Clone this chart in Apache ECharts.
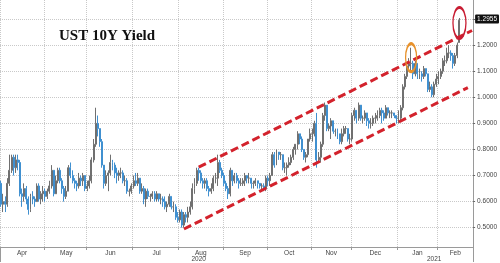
<!DOCTYPE html>
<html><head><meta charset="utf-8">
<script src="https://cdn.jsdelivr.net/npm/echarts@6/dist/echarts.min.js"></script>
<style>html,body{margin:0;padding:0;background:#fff}#c{width:500px;height:263px}</style>
</head><body><div id="c"></div>
<script>
// Trading days (categories)
const dates = [
'2020-04-01','2020-04-02','2020-04-03','2020-04-06','2020-04-07','2020-04-08','2020-04-09','2020-04-13','2020-04-14','2020-04-15','2020-04-16','2020-04-17','2020-04-20','2020-04-21','2020-04-22','2020-04-23','2020-04-24','2020-04-27','2020-04-28','2020-04-29','2020-04-30',
'2020-05-01','2020-05-04','2020-05-05','2020-05-06','2020-05-07','2020-05-08','2020-05-11','2020-05-12','2020-05-13','2020-05-14','2020-05-15','2020-05-18','2020-05-19','2020-05-20','2020-05-21','2020-05-22','2020-05-26','2020-05-27','2020-05-28','2020-05-29',
'2020-06-01','2020-06-02','2020-06-03','2020-06-04','2020-06-05','2020-06-08','2020-06-09','2020-06-10','2020-06-11','2020-06-12','2020-06-15','2020-06-16','2020-06-17','2020-06-18','2020-06-19','2020-06-22','2020-06-23','2020-06-24','2020-06-25','2020-06-26','2020-06-29','2020-06-30',
'2020-07-01','2020-07-02','2020-07-06','2020-07-07','2020-07-08','2020-07-09','2020-07-10','2020-07-13','2020-07-14','2020-07-15','2020-07-16','2020-07-17','2020-07-20','2020-07-21','2020-07-22','2020-07-23','2020-07-24','2020-07-27','2020-07-28','2020-07-29','2020-07-30','2020-07-31',
'2020-08-03','2020-08-04','2020-08-05','2020-08-06','2020-08-07','2020-08-10','2020-08-11','2020-08-12','2020-08-13','2020-08-14','2020-08-17','2020-08-18','2020-08-19','2020-08-20','2020-08-21','2020-08-24','2020-08-25','2020-08-26','2020-08-27','2020-08-28','2020-08-31',
'2020-09-01','2020-09-02','2020-09-03','2020-09-04','2020-09-08','2020-09-09','2020-09-10','2020-09-11','2020-09-14','2020-09-15','2020-09-16','2020-09-17','2020-09-18','2020-09-21','2020-09-22','2020-09-23','2020-09-24','2020-09-25','2020-09-28','2020-09-29','2020-09-30',
'2020-10-01','2020-10-02','2020-10-05','2020-10-06','2020-10-07','2020-10-08','2020-10-09','2020-10-13','2020-10-14','2020-10-15','2020-10-16','2020-10-19','2020-10-20','2020-10-21','2020-10-22','2020-10-23','2020-10-26','2020-10-27','2020-10-28','2020-10-29','2020-10-30',
'2020-11-02','2020-11-03','2020-11-04','2020-11-05','2020-11-06','2020-11-09','2020-11-10','2020-11-12','2020-11-13','2020-11-16','2020-11-17','2020-11-18','2020-11-19','2020-11-20','2020-11-23','2020-11-24','2020-11-25','2020-11-27','2020-11-30',
'2020-12-01','2020-12-02','2020-12-03','2020-12-04','2020-12-07','2020-12-08','2020-12-09','2020-12-10','2020-12-11','2020-12-14','2020-12-15','2020-12-16','2020-12-17','2020-12-18','2020-12-21','2020-12-22','2020-12-23','2020-12-24','2020-12-28','2020-12-29','2020-12-30','2020-12-31',
'2021-01-04','2021-01-05','2021-01-06','2021-01-07','2021-01-08','2021-01-11','2021-01-12','2021-01-13','2021-01-14','2021-01-15','2021-01-19','2021-01-20','2021-01-21','2021-01-22','2021-01-25','2021-01-26','2021-01-27','2021-01-28','2021-01-29',
'2021-02-01','2021-02-02','2021-02-03','2021-02-04','2021-02-05','2021-02-08','2021-02-09','2021-02-10','2021-02-11','2021-02-12','2021-02-16'
];
// Empty days on the right of the axis
const padDates = ['2021-02-17','2021-02-18','2021-02-19','2021-02-22','2021-02-23','2021-02-24'];

// [open, close, low, high]
const ohlcApr = [[0.67,0.59,0.58,0.68],[0.59,0.60,0.56,0.63],[0.60,0.59,0.56,0.62],[0.59,0.67,0.58,0.69],[0.67,0.72,0.66,0.78],[0.72,0.77,0.71,0.78],[0.77,0.73,0.70,0.78],[0.73,0.76,0.71,0.78],[0.76,0.75,0.72,0.78],[0.75,0.63,0.62,0.76],[0.63,0.62,0.58,0.65],[0.62,0.65,0.60,0.67],[0.65,0.61,0.59,0.66],[0.61,0.57,0.55,0.62],[0.57,0.62,0.56,0.63],[0.62,0.61,0.59,0.64],[0.61,0.60,0.58,0.62],[0.60,0.66,0.60,0.67],[0.66,0.61,0.60,0.67],[0.61,0.63,0.59,0.64],[0.63,0.64,0.60,0.66]];
const ohlcMay = [[0.64,0.62,0.60,0.65],[0.62,0.64,0.61,0.65],[0.64,0.66,0.63,0.68],[0.66,0.72,0.65,0.74],[0.72,0.63,0.62,0.72],[0.63,0.68,0.63,0.70],[0.68,0.72,0.67,0.73],[0.72,0.68,0.67,0.73],[0.68,0.65,0.63,0.69],[0.65,0.62,0.60,0.66],[0.62,0.64,0.61,0.66],[0.64,0.73,0.64,0.74],[0.73,0.70,0.69,0.75],[0.70,0.68,0.67,0.72],[0.68,0.67,0.65,0.69],[0.67,0.66,0.64,0.68],[0.66,0.69,0.65,0.71],[0.69,0.68,0.66,0.70],[0.68,0.70,0.66,0.71],[0.70,0.65,0.64,0.70]];
const ohlcJun = [[0.65,0.66,0.64,0.68],[0.66,0.68,0.65,0.70],[0.68,0.76,0.67,0.77],[0.76,0.82,0.75,0.84],[0.82,0.90,0.81,0.96],[0.90,0.88,0.85,0.93],[0.88,0.83,0.81,0.88],[0.83,0.74,0.73,0.84],[0.74,0.67,0.65,0.74],[0.67,0.70,0.66,0.72],[0.70,0.71,0.64,0.72],[0.71,0.75,0.70,0.78],[0.75,0.74,0.72,0.76],[0.74,0.71,0.69,0.75],[0.71,0.70,0.67,0.73],[0.70,0.71,0.68,0.72],[0.71,0.71,0.69,0.73],[0.71,0.68,0.67,0.72],[0.68,0.68,0.66,0.70],[0.68,0.64,0.63,0.69],[0.64,0.64,0.62,0.65],[0.64,0.66,0.63,0.67]];
const ohlcJul = [[0.66,0.68,0.65,0.70],[0.68,0.67,0.66,0.71],[0.67,0.69,0.66,0.71],[0.69,0.64,0.63,0.69],[0.64,0.65,0.63,0.67],[0.65,0.61,0.59,0.66],[0.61,0.64,0.58,0.65],[0.64,0.62,0.61,0.65],[0.62,0.62,0.60,0.63],[0.62,0.63,0.61,0.64],[0.63,0.61,0.60,0.64],[0.61,0.63,0.60,0.64],[0.63,0.61,0.60,0.63],[0.61,0.61,0.59,0.63],[0.61,0.60,0.58,0.62],[0.60,0.58,0.57,0.62],[0.58,0.59,0.56,0.60],[0.59,0.62,0.58,0.63],[0.62,0.58,0.57,0.62],[0.58,0.58,0.56,0.60],[0.58,0.54,0.53,0.59],[0.54,0.53,0.52,0.56]];
const ohlcAug = [[0.53,0.56,0.52,0.57],[0.56,0.51,0.50,0.57],[0.51,0.55,0.50,0.56],[0.55,0.54,0.52,0.56],[0.54,0.56,0.52,0.58],[0.56,0.58,0.55,0.60],[0.58,0.65,0.57,0.67],[0.65,0.67,0.63,0.69],[0.67,0.72,0.66,0.73],[0.72,0.71,0.68,0.73],[0.71,0.68,0.67,0.72],[0.68,0.67,0.65,0.69],[0.67,0.68,0.65,0.69],[0.68,0.65,0.64,0.69],[0.65,0.64,0.62,0.66],[0.64,0.65,0.63,0.67],[0.65,0.69,0.64,0.70],[0.69,0.69,0.67,0.71],[0.69,0.75,0.66,0.78],[0.75,0.72,0.71,0.76],[0.72,0.70,0.69,0.73]];
const ohlcSep = [[0.70,0.67,0.66,0.71],[0.67,0.65,0.64,0.68],[0.65,0.63,0.61,0.66],[0.63,0.72,0.62,0.73],[0.72,0.68,0.66,0.72],[0.68,0.70,0.67,0.71],[0.70,0.68,0.67,0.71],[0.68,0.67,0.65,0.69],[0.67,0.67,0.66,0.69],[0.67,0.68,0.66,0.69],[0.68,0.70,0.66,0.71],[0.70,0.69,0.67,0.70],[0.69,0.69,0.67,0.71],[0.69,0.67,0.65,0.69],[0.67,0.67,0.65,0.68],[0.67,0.68,0.66,0.69],[0.68,0.67,0.65,0.68],[0.67,0.66,0.65,0.67],[0.66,0.66,0.64,0.67],[0.66,0.65,0.64,0.67],[0.65,0.69,0.64,0.70]];
const ohlcOct = [[0.69,0.68,0.66,0.70],[0.68,0.70,0.66,0.71],[0.70,0.78,0.70,0.79],[0.78,0.74,0.73,0.79],[0.74,0.79,0.74,0.80],[0.79,0.78,0.76,0.79],[0.78,0.78,0.76,0.79],[0.78,0.73,0.72,0.78],[0.73,0.73,0.71,0.75],[0.73,0.74,0.70,0.75],[0.74,0.75,0.73,0.77],[0.75,0.77,0.74,0.78],[0.77,0.80,0.76,0.81],[0.80,0.82,0.78,0.82],[0.82,0.86,0.80,0.87],[0.86,0.84,0.82,0.86],[0.84,0.80,0.79,0.85],[0.80,0.77,0.76,0.80],[0.77,0.78,0.75,0.79],[0.78,0.84,0.77,0.84],[0.84,0.86,0.83,0.88]];
const ohlcNov = [[0.86,0.86,0.83,0.88],[0.86,0.90,0.85,0.91],[0.90,0.76,0.73,0.94],[0.76,0.77,0.75,0.79],[0.77,0.82,0.75,0.83],[0.82,0.93,0.81,0.94],[0.93,0.97,0.91,0.98],[0.97,0.88,0.87,0.97],[0.88,0.89,0.87,0.90],[0.89,0.91,0.84,0.92],[0.91,0.87,0.86,0.91],[0.87,0.87,0.85,0.88],[0.87,0.86,0.84,0.88],[0.86,0.83,0.82,0.86],[0.83,0.86,0.82,0.88],[0.86,0.88,0.85,0.89],[0.88,0.88,0.86,0.89],[0.88,0.84,0.83,0.88],[0.84,0.84,0.82,0.86]];
const ohlcDec = [[0.84,0.93,0.83,0.94],[0.93,0.95,0.91,0.96],[0.95,0.92,0.90,0.95],[0.92,0.97,0.91,0.98],[0.97,0.92,0.91,0.97],[0.92,0.92,0.90,0.93],[0.92,0.94,0.91,0.95],[0.94,0.91,0.89,0.94],[0.91,0.90,0.88,0.92],[0.90,0.90,0.88,0.92],[0.90,0.92,0.89,0.93],[0.92,0.92,0.90,0.94],[0.92,0.93,0.91,0.95],[0.93,0.95,0.92,0.96],[0.95,0.94,0.90,0.96],[0.94,0.92,0.91,0.95],[0.92,0.96,0.92,0.97],[0.96,0.94,0.93,0.96],[0.94,0.94,0.92,0.95],[0.94,0.94,0.92,0.95],[0.94,0.93,0.92,0.94],[0.93,0.92,0.90,0.93]];
const ohlcJan = [[0.92,0.92,0.90,0.95],[0.92,0.96,0.91,0.97],[0.96,1.04,0.95,1.05],[1.04,1.08,1.03,1.09],[1.08,1.12,1.07,1.13],[1.12,1.13,1.10,1.15],[1.13,1.13,1.10,1.19],[1.13,1.09,1.07,1.14],[1.09,1.13,1.08,1.14],[1.13,1.09,1.07,1.13],[1.09,1.09,1.07,1.11],[1.09,1.08,1.06,1.10],[1.08,1.11,1.07,1.12],[1.11,1.09,1.08,1.11],[1.09,1.03,1.02,1.09],[1.03,1.04,1.02,1.06],[1.04,1.01,1.00,1.05],[1.01,1.05,1.00,1.06],[1.05,1.07,1.04,1.09]];
const ohlcFeb = [[1.07,1.08,1.05,1.10],[1.08,1.10,1.07,1.11],[1.10,1.14,1.09,1.15],[1.14,1.14,1.12,1.16],[1.14,1.17,1.13,1.19],[1.17,1.17,1.15,1.20],[1.17,1.16,1.14,1.18],[1.16,1.13,1.11,1.17],[1.13,1.16,1.12,1.17],[1.16,1.20,1.15,1.21],[1.21,1.2955,1.21,1.304]];

const yTickValues = [0.5,0.6,0.7,0.8,0.9,1.0,1.1,1.2,1.3];
const yLabelValues = [0.5,0.6,0.7,0.8,0.9,1.0,1.1,1.2];
const lastPrice = 1.2955;
const channelUpper = [['2020-08-14', 0.732], ['2021-02-24', 1.256]];
const channelLower = [['2020-08-05', 0.495], ['2021-02-22', 1.037]];
const highlightOrange = ['2021-01-12', 1.152];
const highlightRed = ['2021-02-16', 1.285];
const monthNames = ['Jan','Feb','Mar','Apr','May','Jun','Jul','Aug','Sep','Oct','Nov','Dec'];

const ohlc = [].concat(ohlcApr, ohlcMay, ohlcJun, ohlcJul, ohlcAug, ohlcSep, ohlcOct, ohlcNov, ohlcDec, ohlcJan, ohlcFeb);
const cats = dates.concat(padDates);
const seriesData = ohlc.concat(padDates.map(() => '-'));

// month / year boundaries & label positions derived from categories
const monthStart = new Set(), monthMid = new Set(), yearStart = new Set(), yearMid = new Set();
(function () {
  const groups = (len) => {
    const g = [];
    cats.forEach((d, i) => {
      const k = d.slice(0, len);
      if (!g.length || g[g.length - 1].k !== k) g.push({k, s: i, e: i}); else g[g.length - 1].e = i;
    });
    return g;
  };
  groups(7).forEach(g => { monthStart.add(g.s); monthMid.add(Math.floor((g.s + g.e + 1) / 2)); });
  groups(4).forEach(g => { if (g.s > 0) yearStart.add(g.s); yearMid.add(Math.floor((g.s + g.e) / 2)); });
})();

const chart = echarts.init(document.getElementById('c'), null, {renderer: 'canvas'});
const gridCol = '#c9c9c9';
const labelFont = 'Liberation Sans';
chart.setOption({
  animation: false,
  backgroundColor: '#fff',
  title: {
    text: 'UST 10Y Yield', left: 54, top: 24,
    textStyle: {fontFamily: 'Liberation Serif', fontWeight: 'bold', fontSize: 15, color: '#111'}
  },
  grid: {left: -6, right: 23, top: 0, bottom: 15},
  xAxis: [{
    type: 'category', data: cats, boundaryGap: true, position: 'bottom',
    axisLine: {show: true, lineStyle: {color: '#9a9a9a', width: 1}},
    axisTick: {show: true, length: 3, interval: (i) => monthStart.has(i), lineStyle: {color: '#9a9a9a'}},
    axisLabel: {
      interval: (i) => monthMid.has(i), margin: 3, fontSize: 6.5, color: '#444', fontFamily: labelFont,
      formatter: (v) => monthNames[+v.slice(5, 7) - 1]
    },
    splitLine: {show: true, interval: (i) => monthStart.has(i), lineStyle: {color: gridCol, type: 'dotted', width: 1}}
  }, {
    type: 'category', data: cats, boundaryGap: true, position: 'bottom',
    axisLine: {show: false},
    axisTick: {show: true, length: 15, interval: (i) => yearStart.has(i), lineStyle: {color: '#9a9a9a'}},
    axisLabel: {
      interval: (i) => yearMid.has(i), margin: 9, fontSize: 6.5, color: '#444', fontFamily: labelFont,
      formatter: (v) => v.slice(0, 4)
    },
    splitLine: {show: false}
  }],
  yAxis: {
    type: 'value', position: 'right', min: 0.426, max: 1.373,
    axisLine: {show: true, lineStyle: {color: '#9a9a9a'}},
    axisTick: {show: true, length: 2, customValues: yTickValues, lineStyle: {color: '#666'}},
    axisLabel: {customValues: yLabelValues, margin: 4, fontSize: 6.5, color: '#444', fontFamily: labelFont,
      formatter: (v) => v.toFixed(4)},
    splitLine: {show: true, lineStyle: {color: gridCol, type: 'dotted', width: 1}}
  },
  series: [{
    type: 'candlestick',
    xAxisIndex: 0,
    data: seriesData,
    barWidth: '70%',
    itemStyle: {color: '#8a8a8a', color0: '#4090d0', borderColor: '#707070', borderColor0: '#4090d0', borderWidth: 1},
    markLine: {
      silent: true, symbol: ['none', 'none'], animation: false,
      data: [
        [{coord: channelUpper[0], lineStyle: {color: '#d3222c', width: 3, type: [8, 4]}, label: {show: false}}, {coord: channelUpper[1]}],
        [{coord: channelLower[0], lineStyle: {color: '#d3222c', width: 3, type: [8, 4]}, label: {show: false}}, {coord: channelLower[1]}],
        {yAxis: lastPrice, lineStyle: {color: 'rgba(0,0,0,0)', width: 0},
          label: {show: true, position: 'end', distance: 2, formatter: lastPrice.toFixed(4), color: '#fff',
            backgroundColor: '#111', borderRadius: 1, padding: [1, 2, 1, 2], fontSize: 6.5, fontFamily: labelFont}}
      ]
    },
    markPoint: {
      silent: true, animation: false,
      data: [
        {coord: highlightOrange, symbol: 'circle', symbolSize: [11, 28],
          itemStyle: {color: 'rgba(0,0,0,0)', borderColor: '#e8922c', borderWidth: 2}, label: {show: false}},
        {coord: highlightRed, symbol: 'circle', symbolSize: [13, 31],
          itemStyle: {color: 'rgba(0,0,0,0)', borderColor: '#c81d33', borderWidth: 2}, label: {show: false}}
      ]
    }
  }]
});
</script></body></html>
